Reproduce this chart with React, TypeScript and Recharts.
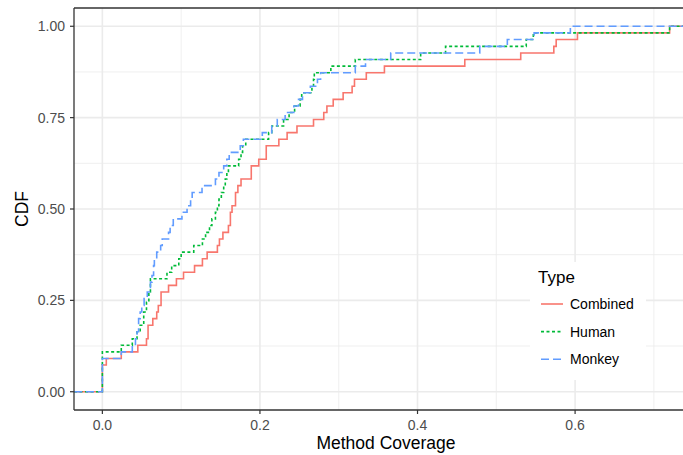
import React from 'react';
import { LineChart, Line, XAxis, YAxis, CartesianGrid, ReferenceLine } from 'recharts';

// Empirical CDF steps, [coverage, cumulative share]
const combinedSteps = [
  [-0.036, 0], [0, 0.073], [0.005, 0.091], [0.024, 0.109], [0.045, 0.127], [0.056, 0.145],
  [0.058, 0.182], [0.064, 0.2], [0.069, 0.218], [0.071, 0.236], [0.0745, 0.273], [0.084, 0.291],
  [0.094, 0.309], [0.103, 0.327], [0.117, 0.345], [0.127, 0.364], [0.133, 0.382], [0.146, 0.4],
  [0.1486, 0.418], [0.153, 0.436], [0.16, 0.455], [0.1625, 0.491], [0.1646, 0.509], [0.169, 0.545],
  [0.172, 0.564], [0.176, 0.582], [0.189, 0.618], [0.1985, 0.636], [0.208, 0.673], [0.224, 0.691],
  [0.2345, 0.709], [0.247, 0.727], [0.268, 0.745], [0.281, 0.764], [0.285, 0.782], [0.293, 0.8],
  [0.3056, 0.818], [0.317, 0.836], [0.32, 0.855], [0.335, 0.873], [0.358, 0.891], [0.46, 0.909],
  [0.531, 0.927], [0.573, 0.945], [0.576, 0.964], [0.603, 0.982], [0.72, 1], [0.756, 1],
];

const humanSteps = [
  [-0.036, 0], [0, 0.109], [0.024, 0.127], [0.038, 0.145], [0.044, 0.164], [0.048, 0.182],
  [0.0525, 0.218], [0.056, 0.245], [0.059, 0.273], [0.061, 0.309], [0.082, 0.327], [0.088, 0.345],
  [0.097, 0.364], [0.1, 0.382], [0.116, 0.4], [0.127, 0.418], [0.131, 0.436], [0.136, 0.455],
  [0.139, 0.473], [0.1435, 0.491], [0.146, 0.509], [0.148, 0.527], [0.151, 0.545], [0.154, 0.564],
  [0.156, 0.582], [0.158, 0.6], [0.16, 0.618], [0.173, 0.636], [0.176, 0.655], [0.178, 0.673],
  [0.182, 0.691], [0.211, 0.709], [0.215, 0.727], [0.23, 0.745], [0.237, 0.764], [0.244, 0.782],
  [0.251, 0.8], [0.253, 0.818], [0.266, 0.836], [0.268, 0.855], [0.269, 0.873], [0.29, 0.891],
  [0.321, 0.909], [0.404, 0.927], [0.4356, 0.945], [0.538, 0.964], [0.547, 0.982], [0.72, 1],
  [0.756, 1],
];

const monkeySteps = [
  [-0.036, 0], [0, 0.091], [0.024, 0.109], [0.038, 0.127], [0.042, 0.145], [0.044, 0.164],
  [0.046, 0.2], [0.048, 0.218], [0.05, 0.236], [0.053, 0.255], [0.057, 0.273], [0.061, 0.3],
  [0.063, 0.318], [0.065, 0.345], [0.066, 0.364], [0.069, 0.382], [0.074, 0.4], [0.076, 0.418],
  [0.084, 0.436], [0.086, 0.455], [0.09, 0.473], [0.101, 0.491], [0.1075, 0.509], [0.112, 0.527],
  [0.114, 0.545], [0.1265, 0.564], [0.1435, 0.582], [0.148, 0.6], [0.154, 0.618], [0.158, 0.636],
  [0.161, 0.655], [0.175, 0.673], [0.179, 0.691], [0.203, 0.709], [0.215, 0.727], [0.222, 0.745],
  [0.232, 0.764], [0.243, 0.782], [0.249, 0.8], [0.254, 0.818], [0.264, 0.836], [0.273, 0.855],
  [0.277, 0.873], [0.321, 0.891], [0.334, 0.909], [0.366, 0.927], [0.479, 0.945], [0.514, 0.964],
  [0.548, 0.982], [0.594, 1], [0.756, 1],
];

const xTicks = [0, 0.2, 0.4, 0.6];
const xMinor = [0.1, 0.3, 0.5, 0.7];
const yTicks = [0, 0.25, 0.5, 0.75, 1];
const yMinor = [0.125, 0.375, 0.625, 0.875];

const X_DOMAIN = [-0.036, 0.756];
const Y_DOMAIN = [-0.05, 1.05];

const series = [
  { name: 'Combined', steps: combinedSteps, color: '#F8766D', dash: undefined },
  { name: 'Human', steps: humanSteps, color: '#00BA38', dash: '3 2.5' },
  { name: 'Monkey', steps: monkeySteps, color: '#619CFF', dash: '8 4' },
];

const FONT = '"Liberation Sans", Arial, Helvetica, sans-serif';
const GRID = '#EBEBEB';
const INK = '#333333';

const toRows = (steps: number[][]) => steps.map(([x, p]) => ({ x, p }));

// grid line positions from the plot offset and the axis domains
const xPos = (offset: any, v: number) =>
  offset.left + ((v - X_DOMAIN[0]) / (X_DOMAIN[1] - X_DOMAIN[0])) * offset.width;
const yPos = (offset: any, v: number) =>
  offset.top + ((Y_DOMAIN[1] - v) / (Y_DOMAIN[1] - Y_DOMAIN[0])) * offset.height;

const CdfLabel = ({ viewBox }: any) => {
  const cx = 22;
  const cy = viewBox.y + viewBox.height / 2;
  return (
    <text x={cx} y={cy} transform={`rotate(-90, ${cx}, ${cy})`} textAnchor="middle"
      dominantBaseline="central" fontSize={17.5} fill="#000" fontFamily={FONT}>
      CDF
    </text>
  );
};

const CoverageLabel = ({ viewBox }: any) => (
  <text x={viewBox.x + viewBox.width / 2} y={449} textAnchor="middle" fontSize={17.5}
    fill="#000" fontFamily={FONT}>
    Method Coverage
  </text>
);

function TypeLegend() {
  return (
    <svg width={116} height={118} style={{ position: 'absolute', left: 530, top: 262 }}>
      <rect x={0} y={0} width={116} height={118} fill="#fff" />
      <text x={8} y={21} fontSize={17} fontFamily={FONT} fill="#000">Type</text>
      {series.map((s, i) => {
        const y = 42 + i * 27.6;
        return (
          <g key={s.name}>
            <line x1={11} x2={33} y1={y} y2={y} stroke={s.color} strokeWidth={1.6} strokeDasharray={s.dash} />
            <text x={40} y={y + 5} fontSize={14} fontFamily={FONT} fill="#000">{s.name}</text>
          </g>
        );
      })}
    </svg>
  );
}

export default function App() {
  return (
    <div style={{ position: 'absolute', left: 0, top: 0, width: 683, height: 455, overflow: 'hidden', background: '#fff', fontFamily: FONT }}>
      <LineChart width={698} height={455} margin={{ top: 8, right: 0, bottom: 0, left: 0 }}>
        {/* minor then major grid */}
        <CartesianGrid stroke={GRID} strokeWidth={0.8}
          horizontalCoordinatesGenerator={({ offset }: any) => yMinor.map((v) => yPos(offset, v))}
          verticalCoordinatesGenerator={({ offset }: any) => xMinor.map((v) => xPos(offset, v))} />
        <CartesianGrid stroke={GRID} strokeWidth={1.6}
          horizontalCoordinatesGenerator={({ offset }: any) => yTicks.map((v) => yPos(offset, v))}
          verticalCoordinatesGenerator={({ offset }: any) => xTicks.map((v) => xPos(offset, v))} />
        <XAxis type="number" dataKey="x" domain={X_DOMAIN} ticks={xTicks} allowDataOverflow
          height={45} tickSize={4} tickMargin={6} tickFormatter={(v: number) => v.toFixed(1)}
          tick={{ fill: '#4D4D4D', fontSize: 14, fontFamily: FONT }}
          axisLine={{ stroke: INK, strokeWidth: 1.3 }} tickLine={{ stroke: INK, strokeWidth: 1.2 }}
          label={<CoverageLabel />} />
        <YAxis type="number" dataKey="p" domain={Y_DOMAIN} ticks={yTicks} allowDataOverflow
          width={74} tickSize={4} tickMargin={5} tickFormatter={(v: number) => v.toFixed(2)}
          tick={{ fill: '#4D4D4D', fontSize: 14, fontFamily: FONT }}
          axisLine={{ stroke: INK, strokeWidth: 1.3 }} tickLine={{ stroke: INK, strokeWidth: 1.2 }}
          label={<CdfLabel />} />
        {series.map((s) => (
          <Line key={s.name} data={toRows(s.steps)} dataKey="p" name={s.name} type="stepAfter"
            stroke={s.color} strokeWidth={1.6} strokeDasharray={s.dash} dot={false}
            activeDot={false} isAnimationActive={false} />
        ))}
        {/* panel border, top edge */}
        <ReferenceLine y={1.05} stroke={INK} strokeWidth={1.3} ifOverflow="visible" />
      </LineChart>
      <TypeLegend />
    </div>
  );
}
